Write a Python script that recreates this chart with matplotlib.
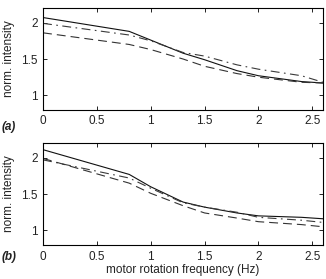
import matplotlib
matplotlib.use("Agg")
import matplotlib.pyplot as plt

plt.rcParams['font.family'] = ['Liberation Sans', 'DejaVu Sans']

freq = [0, 0.8, 1.0, 1.3, 1.5, 1.8, 2.0, 2.4, 2.6]

a_solid = [2.07, 1.88, 1.76, 1.58, 1.49, 1.34, 1.27, 1.19, 1.17]
a_dashdot = [1.99, 1.83, 1.75, 1.59, 1.54, 1.42, 1.36, 1.27, 1.18]
a_dashed = [1.86, 1.70, 1.63, 1.50, 1.40, 1.30, 1.25, 1.18, 1.17]

b_solid = [2.11, 1.77, 1.60, 1.39, 1.32, 1.24, 1.20, 1.18, 1.16]
b_dashdot = [1.97, 1.72, 1.58, 1.38, 1.32, 1.25, 1.18, 1.14, 1.11]
b_dashed = [1.99, 1.65, 1.51, 1.34, 1.24, 1.17, 1.12, 1.08, 1.05]

xticks = [0, 0.5, 1, 1.5, 2, 2.5]
xticklabels = ['0', '0.5', '1', '1.5', '2', '2.5']
yticks = [1, 1.5, 2]
yticklabels = ['1', '1.5', '2']

fs = 8.5
tc = '#222222'

fig = plt.figure(figsize=(3.26, 2.79), dpi=100)
ax1 = fig.add_axes([0.132, 0.606, 0.859, 0.365])
ax2 = fig.add_axes([0.132, 0.122, 0.859, 0.365])

for ax, s, dd, d, lab, ly in [(ax1, a_solid, a_dashdot, a_dashed, '(a)', -0.17),
                              (ax2, b_solid, b_dashdot, b_dashed, '(b)', -0.12)]:
    ax.plot(freq, s, color='#111111', lw=0.8, ls='-')
    ax.plot(freq, dd, color='#3a3a3a', lw=0.8, ls=(0, (8, 4, 1.5, 4)))
    ax.plot(freq, d, color='#333333', lw=0.8, ls=(0, (8, 4.5)))
    ax.set_xlim(0, 2.6)
    ax.set_ylim(0.8, 2.2)
    ax.set_xticks(xticks)
    ax.set_xticklabels(xticklabels)
    ax.set_yticks(yticks)
    ax.set_yticklabels(yticklabels)
    ax.tick_params(direction='in', top=True, right=True, labelsize=fs, length=3,
                   width=0.6, pad=4, labelcolor=tc)
    for sp in ax.spines.values():
        sp.set_linewidth(0.8)
    ax.set_ylabel('norm. intensity', fontsize=fs, labelpad=4, color=tc)
    ax.text(-0.148, ly, lab, transform=ax.transAxes, fontsize=fs,
            fontweight='bold', style='italic', ha='left', va='center', color=tc)

ax2.set_xlabel('motor rotation frequency (Hz)', fontsize=fs, labelpad=1, color=tc)

fig.savefig('out.png', dpi=100)
